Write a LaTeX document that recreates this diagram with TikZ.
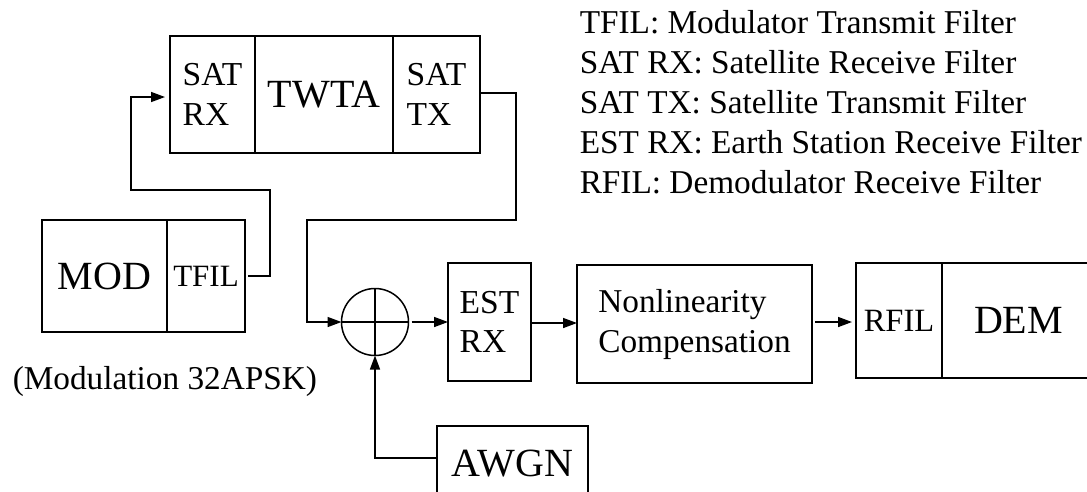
\documentclass[tikz,border=0pt]{standalone}
\usepackage{fontspec}
\setmainfont{Liberation Serif}
\usetikzlibrary{arrows.meta,positioning}
\newcommand{\sz}[2]{\fontsize{#1}{#2}\selectfont}

\begin{document}
\begin{tikzpicture}[x=1pt,y=-1pt,>={Triangle[length=14pt,width=10pt]},line width=1.5pt,
  blk/.style={draw,outer sep=0pt,inner sep=0pt,align=center},
  lgd/.style={font=\sz{33.3}{40},inner sep=0pt,anchor=base west}]
\useasboundingbox (0,0) rectangle (1087,491);
\clip (0,0) rectangle (1087,491);
% satellite
\node[blk,minimum width=85pt,minimum height=117pt,font=\sz{33.5}{40},align=left] (satrx) at (212.5,94.5) {SAT\\RX};
\node[blk,minimum width=138pt,minimum height=117pt,font=\sz{40}{40},right=0pt of satrx] (twta) {TWTA};
\node[blk,minimum width=87pt,minimum height=117pt,font=\sz{33.5}{40},align=left,right=0pt of twta] (sattx) {SAT\\TX};
% modulator
\node[blk,minimum width=125pt,minimum height=112pt,font=\sz{40}{40}] (mod) at (104.5,276) {MOD};
\node[blk,minimum width=78pt,minimum height=112pt,font=\sz{31}{40},right=0pt of mod] (tfil) {TFIL};
\node[lgd] (modlbl) at (12,389) {(Modulation 32APSK)};
% receiver chain
\node[draw,circle,minimum size=67pt,inner sep=0pt,outer sep=0pt] (sum) at (375,322) {};
\draw (sum.north) -- (sum.south) (sum.west) -- (sum.east);
\node[blk,minimum width=83pt,minimum height=118pt,font=\sz{33.5}{39},align=left] (est) at (489.5,322) {EST\\RX};
\node[blk,minimum width=235pt,minimum height=118pt,font=\sz{33.3}{40},align=left] (nlc) at (694.5,324) {Nonlinearity\\Compensation};
\node[blk,minimum width=86pt,minimum height=115pt,font=\sz{32.5}{40}] (rfil) at (899,320.5) {RFIL};
\node[blk,minimum width=153pt,minimum height=115pt,font=\sz{40}{40},right=0pt of rfil] (dem) {DEM};
\node[blk,minimum width=151pt,minimum height=75pt,font=\sz{40}{40},anchor=north west] (awgn) at (437,426) {AWGN};
% legend
\foreach \t [count=\i] in {TFIL: Modulator Transmit Filter,SAT RX: Satellite Receive Filter,SAT TX: Satellite Transmit Filter,EST RX: Earth Station Receive Filter,RFIL: Demodulator Receive Filter}
  \node[lgd] (lg\i) at (579,33+40*\i-40) {\t};
% connections
\draw[->,shorten <=3pt,shorten >=5pt] (tfil.east) -| (270,190) -| (131,97) -- (satrx.west |- 0,97);
\draw[->] (sattx.east |- 0,93) -| (516,220) -| (307,322) -- (sum.west);
\draw[->,shorten <=3pt] (sum.east) -- (est.west |- sum.east);
\draw[->] (est.east |- 0,323) -- (nlc.west |- 0,323);
\draw[->,shorten <=3pt,shorten >=4pt] (nlc.east |- 0,322) -- (rfil.west |- 0,322);
\draw[->] (awgn.west |- 0,458) -| (sum.south);
\end{tikzpicture}
\end{document}
